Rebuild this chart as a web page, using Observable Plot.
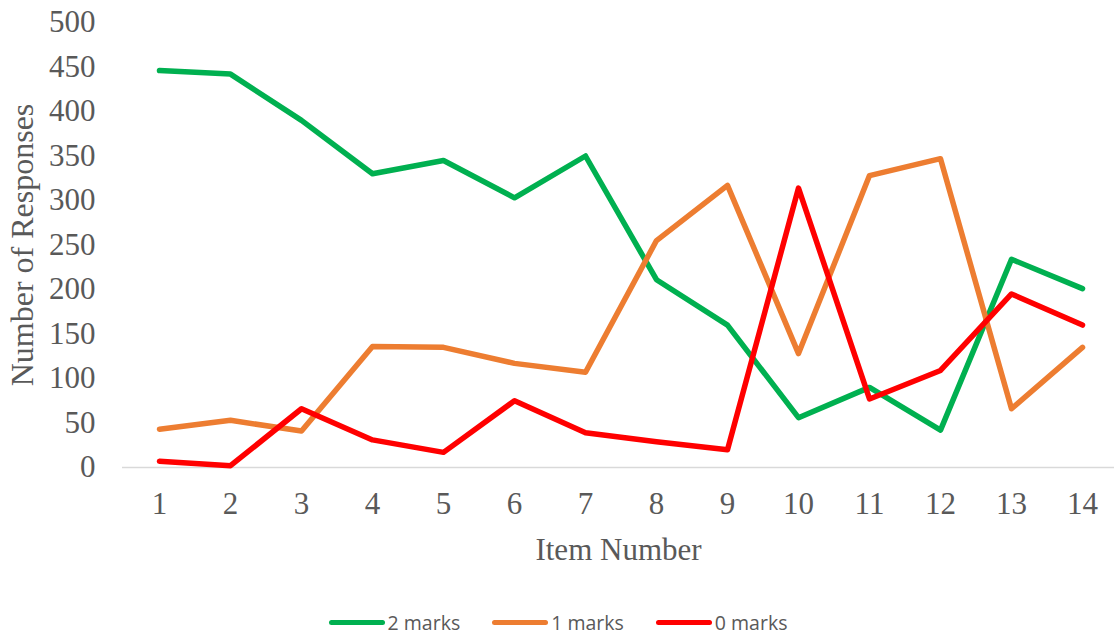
<!DOCTYPE html>
<html>
<head>
<meta charset="utf-8">
<script src="https://cdn.jsdelivr.net/npm/d3@7"></script>
<script src="https://cdn.jsdelivr.net/npm/@observablehq/plot@0.6"></script>
<style>
  html, body { margin: 0; padding: 0; background: #fff; }
  #chart svg { display: block; }
  .legend {
    display: flex; justify-content: center; align-items: center;
    height: 44px; gap: 32px; padding-left: 2px;
    font-family: "Open Sans", sans-serif; font-size: 19.5px; color: #595959;
  }
  .legend .item { display: flex; align-items: center; gap: 3px; }
  .legend .swatch { width: 56px; height: 5px; border-radius: 3px; }
</style>
</head>
<body>
<div id="chart"></div>
<div class="legend" id="legend"></div>
<script>
// Item numbers on the category axis
const items = [1, 2, 3, 4, 5, 6, 7, 8, 9, 10, 11, 12, 13, 14];

// Number of responses per item, by marks awarded
const twoMarks  = [446, 442, 390, 330, 345, 303, 350, 211, 160, 56, 90, 42, 234, 201];
const oneMarks  = [43, 53, 41, 136, 135, 117, 107, 255, 317, 128, 328, 347, 66, 135];
const zeroMarks = [7, 2, 66, 31, 17, 75, 39, 29, 20, 314, 77, 109, 195, 160];

// Vertical axis tick values
const yTicks = [0, 50, 100, 150, 200, 250, 300, 350, 400, 450, 500];

const seriesNames = ["2 marks", "1 marks", "0 marks"];
const seriesColors = ["#00B050", "#ED7D31", "#FF0000"];
const seriesValues = [twoMarks, oneMarks, zeroMarks];

const rows = seriesNames.flatMap((name, s) =>
  items.map((item, i) => ({ series: name, item, value: seriesValues[s][i] }))
);

const chart = Plot.plot({
  width: 1114,
  height: 600,
  marginLeft: 122,
  marginRight: 0,
  marginTop: 22,
  marginBottom: 133,
  style: { fontFamily: "Liberation Serif, serif", fontSize: "31px", color: "#595959", background: "#fff" },
  x: { type: "point", domain: items, range: [157.5, 1084], padding: 0 },
  y: { domain: [0, 500] },
  color: { domain: seriesNames, range: seriesColors },
  marks: [
    Plot.ruleY([0], { stroke: "#d9d9d9", strokeWidth: 1.5 }),
    Plot.axisY(yTicks, { tickSize: 0, tickPadding: 27, label: null, fill: "#595959" }),
    Plot.axisX(items, { tickSize: 0, tickPadding: 24, label: null, fill: "#595959" }),
    Plot.line(rows, {
      x: "item", y: "value", z: "series", stroke: "series",
      strokeWidth: 5.5, strokeLinecap: "round", strokeLinejoin: "round"
    }),
    Plot.text(["Item Number"], {
      frameAnchor: "bottom", dy: 83, lineAnchor: "middle",
      fill: "#595959", fontSize: 31
    }),
    Plot.text(["Number of Responses"], {
      frameAnchor: "left", dx: -100, rotate: -90,
      textAnchor: "middle", lineAnchor: "middle",
      fill: "#595959", fontSize: 32
    })
  ]
});
document.getElementById("chart").appendChild(chart);

// Legend below the chart
const legend = document.getElementById("legend");
seriesNames.forEach((name, i) => {
  const item = document.createElement("div");
  item.className = "item";
  const sw = document.createElement("span");
  sw.className = "swatch";
  sw.style.background = seriesColors[i];
  const label = document.createElement("span");
  label.textContent = name;
  item.append(sw, label);
  legend.append(item);
});
</script>
</body>
</html>
